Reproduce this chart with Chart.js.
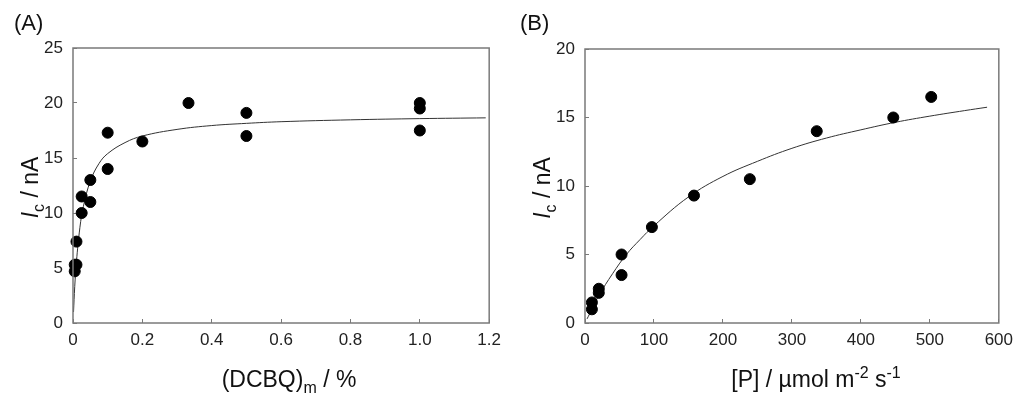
<!doctype html>
<html lang="en">
<head>
  <meta charset="utf-8">
  <title>Ic plots</title>
  <style>
    body { margin: 0; background: #fff; }
    .panel { position: absolute; top: 0; width: 512px; height: 399px; }
    #panelA { left: 0; }
    #panelB { left: 512px; }
  </style>
</head>
<body>
  <div class="panel" id="panelA"><canvas id="chartA" width="512" height="399"></canvas></div>
  <div class="panel" id="panelB"><canvas id="chartB" width="512" height="399"></canvas></div>

  <script src="https://cdn.jsdelivr.net/npm/chart.js"></script>
  <script>
    // (A) measured points
    const aPointX = [0.005, 0.005, 0.01, 0.01, 0.025, 0.025, 0.05, 0.05, 0.1, 0.1, 0.2, 0.333, 0.5, 0.5, 1.0, 1.0, 1.0];
    const aPointY = [4.7, 5.3, 5.3, 7.4, 10, 11.5, 11, 13, 14, 17.3, 16.5, 20, 17, 19.1, 17.5, 19.5, 20];
    // (A) fitted curve
    const aCurveX = [0.0015, 0.005, 0.01, 0.02, 0.03, 0.05, 0.075, 0.1, 0.15, 0.2, 0.3, 0.4, 0.5, 0.6, 0.8, 1.0, 1.19];
    const aCurveY = [1.0, 3.3, 5.6, 8.7, 10.6, 12.9, 14.5, 15.4, 16.4, 17.0, 17.6, 17.95, 18.15, 18.3, 18.47, 18.58, 18.65];
    const aTicksX = [0, 0.2, 0.4, 0.6, 0.8, 1.0, 1.2];
    const aTicksY = [0, 5, 10, 15, 20, 25];

    // (B) measured points
    const bPointX = [10, 10, 20, 20, 53, 53, 97, 158, 239, 336, 447, 502];
    const bPointY = [1.0, 1.5, 2.2, 2.5, 3.5, 5.0, 7.0, 9.3, 10.5, 14, 15, 16.5];
    // (B) fitted curve
    const bCurveX = [3, 10, 20, 40, 60, 80, 100, 150, 200, 250, 300, 350, 400, 450, 500, 550, 583];
    const bCurveY = [0.3, 1.0, 2.0, 3.6, 5.0, 6.1, 7.1, 9.2, 10.7, 11.8, 12.75, 13.5, 14.1, 14.65, 15.1, 15.5, 15.75];
    const bTicksX = [0, 100, 200, 300, 400, 500, 600];
    const bTicksY = [0, 5, 10, 15, 20];

    const fontName = "'Liberation Sans', Arial, sans-serif";
    const frameColor = '#7a7a7a';

    function toXY(xs, ys) {
      return xs.map((x, i) => ({ x: x, y: ys[i] }));
    }

    // draw a run of text pieces (italic / sub / sup) centred on 0,0
    function drawRich(ctx, parts, size) {
      const small = Math.round(size * 0.68);
      let total = 0;
      parts.forEach(p => {
        const s = (p.sub || p.sup) ? small : size;
        ctx.font = (p.italic ? 'italic ' : '') + s + 'px ' + fontName;
        p.w = ctx.measureText(p.t).width;
        total += p.w;
      });
      let x = -total / 2;
      parts.forEach(p => {
        const s = (p.sub || p.sup) ? small : size;
        ctx.font = (p.italic ? 'italic ' : '') + s + 'px ' + fontName;
        let dy = 0;
        if (p.sub) dy = size * 0.28;
        if (p.sup) dy = -size * 0.38;
        ctx.fillText(p.t, x, dy);
        x += p.w;
      });
    }

    const extrasPlugin = {
      id: 'extras',
      afterDraw(chart, args, opts) {
        const ctx = chart.ctx;
        const a = chart.chartArea;
        ctx.save();
        // frame
        ctx.strokeStyle = frameColor;
        ctx.lineWidth = 1.5;
        ctx.strokeRect(a.left, a.top, a.right - a.left, a.bottom - a.top);
        ctx.fillStyle = '#111';
        ctx.textBaseline = 'alphabetic';
        // panel letter
        ctx.font = '22px ' + fontName;
        ctx.textAlign = 'left';
        ctx.fillText(opts.letter, opts.letterX, 30);
        // x title
        ctx.save();
        ctx.translate(opts.xTitleX, 387);
        drawRich(ctx, opts.xTitle, 23);
        ctx.restore();
        // y title
        ctx.save();
        ctx.translate(38, (a.top + a.bottom) / 2 + 2);
        ctx.rotate(-Math.PI / 2);
        drawRich(ctx, opts.yTitle, 23);
        ctx.restore();
        ctx.restore();
      }
    };

    function makeChart(canvasId, pts, curve, tx, ty, xMax, yMax, top, right, extras, fmtX) {
      return new Chart(document.getElementById(canvasId), {
        type: 'scatter',
        data: {
          datasets: [{
            data: pts,
            backgroundColor: '#000',
            borderColor: '#000',
            pointRadius: 5.5,
            pointHoverRadius: 5.5,
            clip: false
          }, {
            data: curve,
            showLine: true,
            borderColor: '#333',
            borderWidth: 1,
            pointRadius: 0,
            tension: 0.4
          }]
        },
        options: {
          responsive: false,
          animation: false,
          events: [],
          layout: { padding: { left: 0, right: right, top: top, bottom: 0 } },
          plugins: {
            legend: { display: false },
            tooltip: { enabled: false },
            extras: extras
          },
          scales: {
            x: {
              type: 'linear',
              min: 0,
              max: xMax,
              afterBuildTicks: s => { s.ticks = tx.map(v => ({ value: v })); },
              afterFit: s => { s.height = 76; },
              grid: { drawOnChartArea: false, tickLength: -4, color: frameColor, lineWidth: 1 },
              border: { display: false },
              ticks: {
                padding: 11,
                color: '#222',
                font: { family: fontName, size: 17 },
                callback: fmtX
              }
            },
            y: {
              type: 'linear',
              min: 0,
              max: yMax,
              afterBuildTicks: s => { s.ticks = ty.map(v => ({ value: v })); },
              afterFit: s => { s.width = 73; },
              grid: { drawOnChartArea: false, tickLength: -4, color: frameColor, lineWidth: 1 },
              border: { display: false },
              ticks: {
                padding: 14,
                color: '#222',
                font: { family: fontName, size: 17 }
              }
            }
          }
        },
        plugins: [extrasPlugin]
      });
    }

    const yTitleParts = [{ t: 'I', italic: true }, { t: 'c', sub: true }, { t: ' / nA' }];

    makeChart('chartA', toXY(aPointX, aPointY), toXY(aCurveX, aCurveY), aTicksX, aTicksY, 1.2, 25, 48, 16, {
      letter: '(A)',
      letterX: 14,
      xTitleX: 289,
      xTitle: [{ t: '(DCBQ)' }, { t: 'm', sub: true }, { t: ' / %' }],
      yTitle: yTitleParts
    }, v => v === 0 ? '0' : v.toFixed(1));

    makeChart('chartB', toXY(bPointX, bPointY), toXY(bCurveX, bCurveY), bTicksX, bTicksY, 600, 20, 49, 17, {
      letter: '(B)',
      letterX: 8,
      xTitleX: 304,
      xTitle: [{ t: '[P] / \u00b5mol m' }, { t: '-2', sup: true }, { t: ' s' }, { t: '-1', sup: true }],
      yTitle: yTitleParts
    }, v => String(v));
  </script>
</body>
</html>
